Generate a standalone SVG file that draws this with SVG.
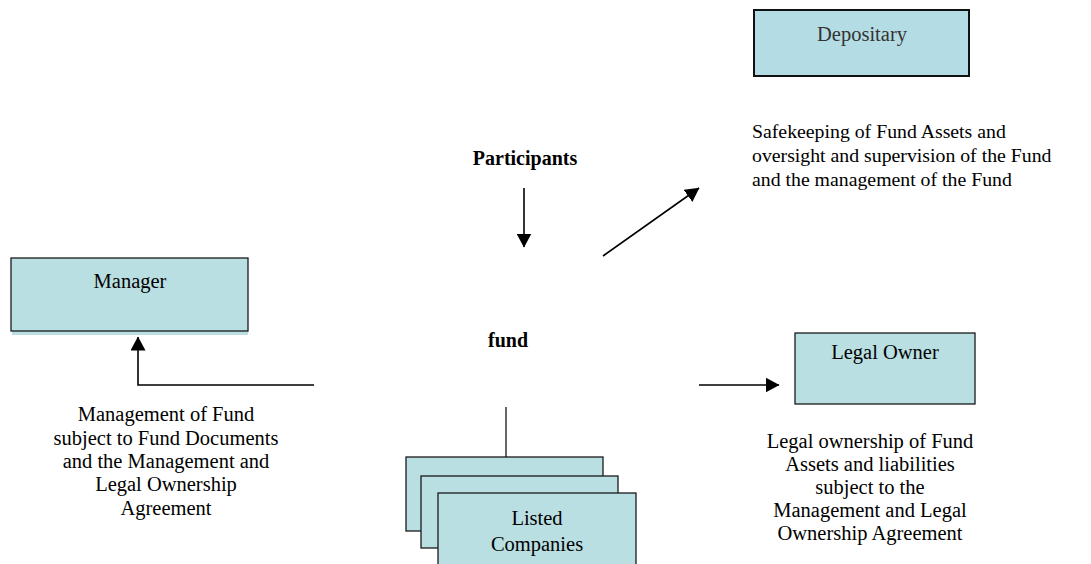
<svg xmlns="http://www.w3.org/2000/svg" width="1091" height="564" viewBox="0 0 1091 564">
<defs>
<style>
.box{fill:#b9dfe3;stroke:#1a1a1a;stroke-width:1.3}
.t{font-family:"Liberation Serif","Times New Roman",serif;font-size:20.5px;fill:#000}
.s{font-size:19.8px}
.c{text-anchor:middle}
.b{font-weight:bold;font-size:20px}
.ln{stroke:#000;stroke-width:1.6;fill:none}
</style>
<marker id="ah" viewBox="0 0 14 15" refX="13.5" refY="7.5" markerWidth="14" markerHeight="15" markerUnits="userSpaceOnUse" orient="auto">
<path d="M0,0 L14,7.5 L0,15 z" fill="#000"/>
</marker>
</defs>
<rect width="1091" height="564" fill="#fff"/>

<g id="depositary">
<rect x="754" y="10" width="215" height="66" fill="#b4dce4" stroke="#111" stroke-width="2"/>
<text class="t c" x="862" y="41" style="fill:#333">Depositary</text>
</g>

<g id="depositary-label">
<text class="t s" x="752" y="138">Safekeeping of Fund Assets and</text>
<text class="t s" x="752" y="162">oversight and supervision of the Fund</text>
<text class="t s" x="752" y="186">and the management of the Fund</text>
</g>

<g id="participants">
<text class="t c b" x="525" y="165">Participants</text>
</g>

<g id="fund">
<text class="t c b" x="508" y="347">fund</text>
</g>

<g id="manager">
<rect x="12" y="262" width="236" height="73" fill="#b9dfe3"/>
<rect x="11" y="258" width="237" height="73" class="box"/>
<text class="t c" x="130" y="288">Manager</text>
</g>

<g id="manager-label">
<text class="t c" x="166" y="421">Management of Fund</text>
<text class="t c" x="166" y="445">subject to Fund Documents</text>
<text class="t c" x="166" y="468">and the Management and</text>
<text class="t c" x="166" y="491">Legal Ownership</text>
<text class="t c" x="166" y="515">Agreement</text>
</g>

<g id="legal-owner">
<rect x="795" y="333" width="180" height="71" class="box"/>
<text class="t c" x="885" y="359">Legal Owner</text>
</g>

<g id="legal-owner-label">
<text class="t c" x="870" y="448">Legal ownership of Fund</text>
<text class="t c" x="870" y="471">Assets and liabilities</text>
<text class="t c" x="870" y="494">subject to the</text>
<text class="t c" x="870" y="517">Management and Legal</text>
<text class="t c" x="870" y="540">Ownership Agreement</text>
</g>

<g id="listed-companies">
<rect x="406" y="457" width="197" height="74" class="box"/>
<rect x="421" y="476" width="197" height="72" class="box"/>
<rect x="438" y="493" width="198" height="80" class="box"/>
<text class="t c" x="537" y="525">Listed</text>
<text class="t c" x="537" y="551">Companies</text>
</g>

<g id="connectors">
<line class="ln" x1="524" y1="188" x2="524" y2="247" marker-end="url(#ah)"/>
<line class="ln" x1="603" y1="256" x2="699" y2="188" marker-end="url(#ah)"/>
<polyline class="ln" points="314,385 138,385 138,337" marker-end="url(#ah)"/>
<line class="ln" x1="699" y1="385" x2="779" y2="385" marker-end="url(#ah)"/>
<line class="ln" x1="506" y1="407" x2="506" y2="457" style="stroke-width:1.2"/>
</g>
</svg>
